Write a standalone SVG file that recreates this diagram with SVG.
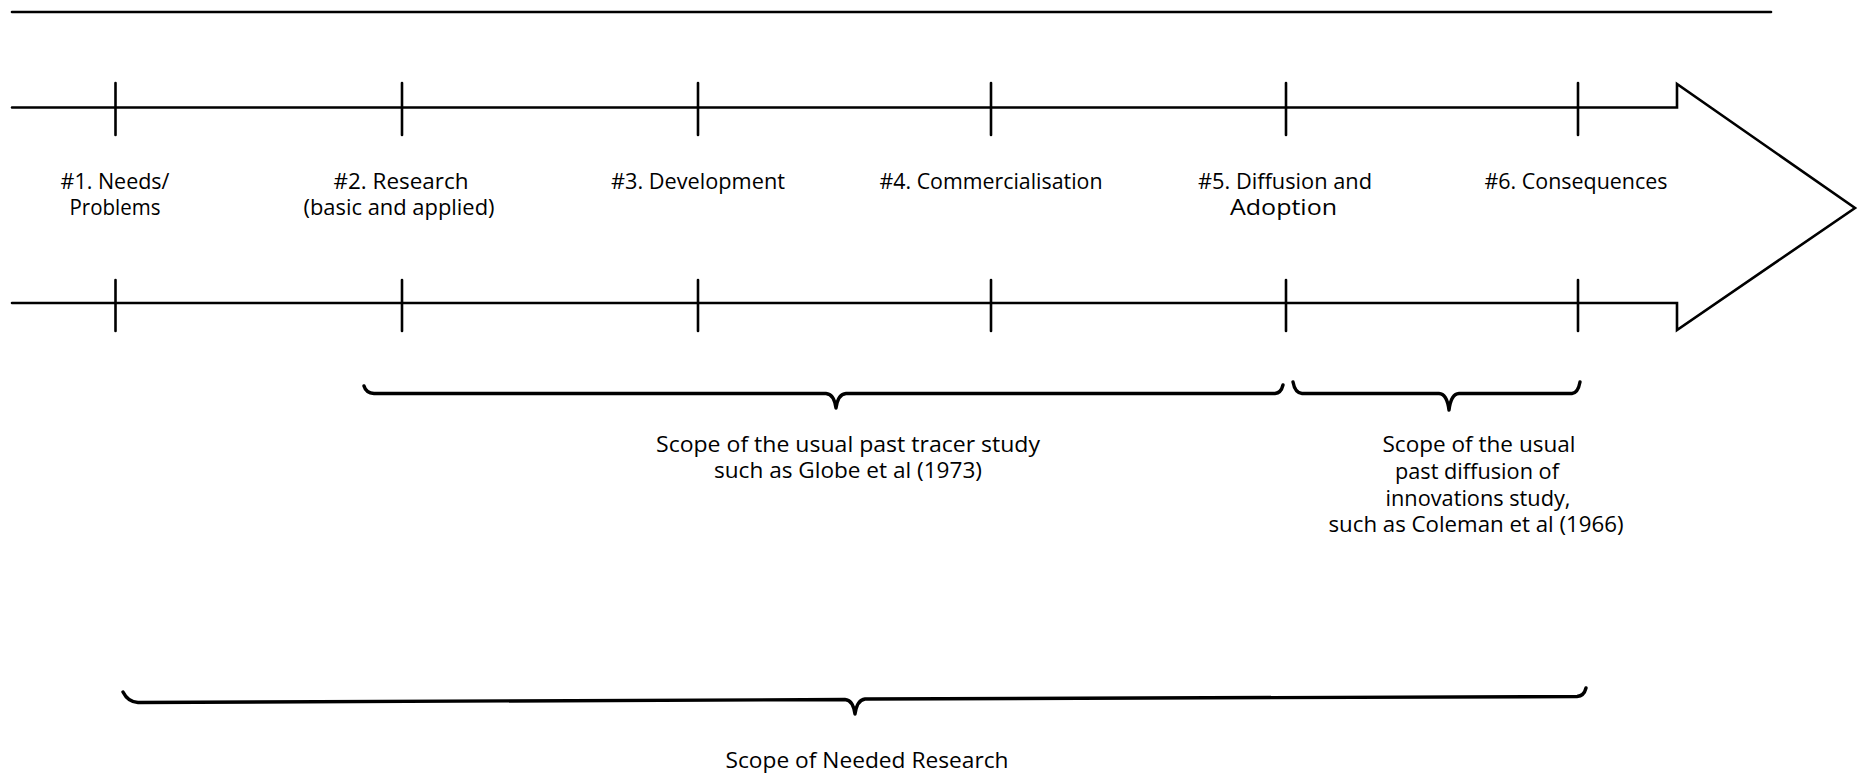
<svg xmlns="http://www.w3.org/2000/svg" width="1865" height="779" viewBox="0 0 1865 779">
  <style>
    .ln { fill: none; stroke: #000; stroke-width: 2.6; stroke-linecap: round; stroke-linejoin: miter; }
    .tick { fill: none; stroke: #000; stroke-width: 2.6; stroke-linecap: round; }
    .brace { fill: none; stroke: #000; stroke-width: 3.4; stroke-linecap: round; stroke-linejoin: round; }
    text { font-family: "Open Sans", "DejaVu Sans", sans-serif; font-size: 21px; fill: #000; text-anchor: middle; }
  </style>
  <rect width="1865" height="779" fill="#fff"/>

  <!-- rule across the top -->
  <line id="top-rule" class="ln" x1="12" y1="12" x2="1771" y2="12" stroke-width="3"/>

  <!-- timeline band ending in a large arrowhead -->
  <g id="connectors">
    <path id="timeline-arrow" class="ln" stroke-width="2.8" d="M12,107.5 H1677 V84 L1855,208 L1677,330 V303 H12"/>
  </g>

  <!-- stages along the timeline: tick marks top and bottom plus label -->
  <g id="stage-1">
    <line class="tick" x1="115.5" y1="83" x2="115.5" y2="135"/>
    <line class="tick" x1="115.5" y1="280" x2="115.5" y2="331"/>
    <text x="115" y="189" textLength="109" lengthAdjust="spacingAndGlyphs">#1. Needs/</text>
    <text x="115" y="215" textLength="91" lengthAdjust="spacingAndGlyphs">Problems</text>
  </g>
  <g id="stage-2">
    <line class="tick" x1="402" y1="83" x2="402" y2="135"/>
    <line class="tick" x1="402" y1="280" x2="402" y2="331"/>
    <text x="401" y="189" textLength="135" lengthAdjust="spacingAndGlyphs">#2. Research</text>
    <text x="399" y="215" textLength="191" lengthAdjust="spacingAndGlyphs">(basic and applied)</text>
  </g>
  <g id="stage-3">
    <line class="tick" x1="698" y1="83" x2="698" y2="135"/>
    <line class="tick" x1="698" y1="280" x2="698" y2="331"/>
    <text x="698" y="189" textLength="174" lengthAdjust="spacingAndGlyphs">#3. Development</text>
  </g>
  <g id="stage-4">
    <line class="tick" x1="991" y1="83" x2="991" y2="135"/>
    <line class="tick" x1="991" y1="280" x2="991" y2="331"/>
    <text x="991" y="189" textLength="223" lengthAdjust="spacingAndGlyphs">#4. Commercialisation</text>
  </g>
  <g id="stage-5">
    <line class="tick" x1="1286" y1="83" x2="1286" y2="135"/>
    <line class="tick" x1="1286" y1="280" x2="1286" y2="331"/>
    <text x="1285" y="189" textLength="174" lengthAdjust="spacingAndGlyphs">#5. Diffusion and</text>
    <text x="1283.5" y="215" textLength="107" lengthAdjust="spacingAndGlyphs">Adoption</text>
  </g>
  <g id="stage-6">
    <line class="tick" x1="1578" y1="83" x2="1578" y2="135"/>
    <line class="tick" x1="1578" y1="280" x2="1578" y2="331"/>
    <text x="1576" y="189" textLength="183" lengthAdjust="spacingAndGlyphs">#6. Consequences</text>
  </g>

  <!-- scope braces with their captions -->
  <g id="scope-tracer">
    <path class="brace" d="M364,386 Q366,393 374,393.5 L826,393.5 Q834,394 836,408 Q838,394 846,393.5 L1275,393.5 Q1281,393 1283,385"/>
    <text x="848" y="452" textLength="384" lengthAdjust="spacingAndGlyphs">Scope of the usual past tracer study</text>
    <text x="848" y="478" textLength="268" lengthAdjust="spacingAndGlyphs">such as Globe et al (1973)</text>
  </g>
  <g id="scope-diffusion">
    <path class="brace" d="M1293,382 Q1295,393 1302,393.5 L1439,393.5 Q1447,394 1449,410 Q1451,394 1459,393.5 L1572,393.5 Q1578,393 1580,382"/>
    <text x="1479" y="452" textLength="193" lengthAdjust="spacingAndGlyphs">Scope of the usual</text>
    <text x="1477" y="479" textLength="164" lengthAdjust="spacingAndGlyphs">past diffusion of</text>
    <text x="1478" y="506" textLength="185" lengthAdjust="spacingAndGlyphs">innovations study,</text>
    <text x="1476" y="532" textLength="295" lengthAdjust="spacingAndGlyphs">such as Coleman et al (1966)</text>
  </g>
  <g id="scope-needed">
    <path class="brace" d="M123,692 Q128,702 138,702.5 L845,699.5 Q853,700 855,714 Q857,700 865,699 L1577,696.5 Q1584,696 1586,688"/>
    <text x="867" y="768" textLength="283" lengthAdjust="spacingAndGlyphs">Scope of Needed Research</text>
  </g>
</svg>
